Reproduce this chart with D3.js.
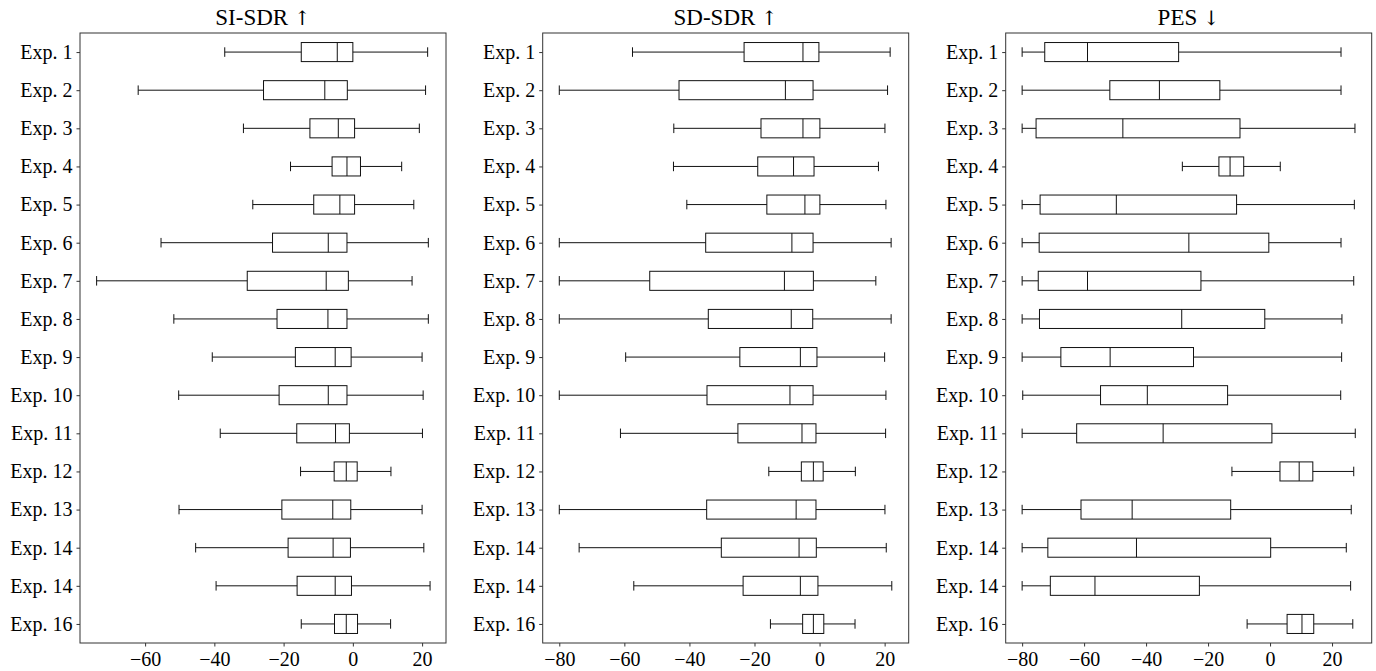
<!DOCTYPE html>
<html>
<head>
<meta charset="utf-8">
<script src="https://cdn.jsdelivr.net/npm/d3@7"></script>
<style>
  body { margin: 0; background: #fff; }
  svg text { font-family: "Liberation Serif", "DejaVu Serif", serif; fill: #000; }
</style>
</head>
<body>
<div id="chart"></div>
<script>
// experiment names (top to bottom)
const experiments = ["Exp. 1", "Exp. 2", "Exp. 3", "Exp. 4", "Exp. 5", "Exp. 6", "Exp. 7", "Exp. 8",
    "Exp. 9", "Exp. 10", "Exp. 11", "Exp. 12", "Exp. 13", "Exp. 14", "Exp. 14", "Exp. 16"];

// [whisker low, q1, median, q3, whisker high]
const siSdr = [
    [-37.0, -14.9, -4.5, 0.0, 21.6],
    [-62.0, -25.8, -8.1, -1.6, 21.0],
    [-31.6, -12.4, -4.2, 0.5, 19.2],
    [-18.0, -6.0, -1.7, 2.2, 14.1],
    [-28.9, -11.3, -3.75, 0.5, 17.6],
    [-55.4, -23.2, -7.1, -1.7, 21.8],
    [-74.0, -30.5, -7.7, -1.3, 17.1],
    [-51.7, -21.9, -7.2, -1.7, 21.8],
    [-40.6, -16.6, -5.1, -0.5, 20.0],
    [-50.3, -21.3, -7.1, -1.7, 20.3],
    [-38.3, -16.2, -5.0, -1.0, 20.1],
    [-15.1, -5.4, -1.9, 1.25, 11.0],
    [-50.2, -20.5, -5.8, -0.6, 20.0],
    [-45.4, -18.7, -5.7, -0.7, 20.5],
    [-39.5, -16.1, -5.1, -0.4, 22.3],
    [-14.9, -5.3, -1.9, 1.35, 10.9]
];

const sdSdr = [
    [-57.5, -23.2, -5.1, -0.2, 21.7],
    [-80.0, -43.2, -10.5, -2.0, 20.9],
    [-44.8, -18.0, -5.1, 0.1, 20.1],
    [-44.9, -19.0, -8.0, -1.7, 18.1],
    [-40.8, -16.2, -4.5, 0.1, 20.4],
    [-80.0, -35.0, -8.5, -2.0, 22.0],
    [-80.0, -52.2, -10.8, -1.9, 17.3],
    [-80.0, -34.2, -8.7, -2.1, 22.0],
    [-59.6, -24.5, -5.9, -0.8, 20.0],
    [-80.0, -34.6, -9.1, -2.0, 20.4],
    [-61.2, -25.1, -5.4, -1.1, 20.3],
    [-15.6, -5.6, -1.9, 1.1, 11.0],
    [-80.0, -34.7, -7.2, -1.1, 20.1],
    [-73.9, -30.2, -6.3, -1.0, 20.5],
    [-57.1, -23.5, -5.9, -0.5, 22.2],
    [-15.1, -5.2, -1.9, 1.3, 10.9]
];

const pes = [
    [-80.0, -72.7, -58.9, -29.5, 22.9],
    [-80.0, -51.7, -35.7, -16.2, 22.9],
    [-80.0, -75.5, -47.5, -9.7, 27.4],
    [-28.3, -16.5, -12.9, -8.5, 3.3],
    [-80.0, -74.2, -49.6, -10.8, 27.2],
    [-80.0, -74.5, -26.2, -0.4, 22.9],
    [-80.0, -74.8, -58.9, -22.3, 27.0],
    [-80.0, -74.4, -28.5, -1.7, 23.2],
    [-80.0, -67.5, -51.6, -24.7, 23.1],
    [-79.8, -54.7, -39.6, -13.7, 22.8],
    [-80.0, -62.4, -34.5, 0.6, 27.5],
    [-12.3, 3.2, 9.4, 13.8, 27.0],
    [-80.0, -61.0, -44.5, -12.7, 26.2],
    [-80.0, -71.7, -43.1, 0.2, 24.6],
    [-80.0, -70.9, -56.5, -22.8, 26.0],
    [-7.4, 5.5, 10.3, 14.1, 26.7]
];

const titles = ["SI-SDR", "SD-SDR", "PES"];
const arrows = ["\u2191", "\u2191", "\u2193"];
const ticksSi = [-60, -40, -20, 0, 20];
const ticksOther = [-80, -60, -40, -20, 0, 20];

const panels = [
    {title: titles[0], arrow: arrows[0], data: siSdr, domain: [-78.8, 26.9], ticks: ticksSi, left: 80},
    {title: titles[1], arrow: arrows[1], data: sdSdr, domain: [-85.1, 27.4], ticks: ticksOther, left: 542.7},
    {title: titles[2], arrow: arrows[2], data: pes, domain: [-85.3, 32.8], ticks: ticksOther, left: 1005.7}
];

const W = 1376, H = 671;
const plotTop = 33, plotH = 610, plotW = 366;

const svg = d3.select("#chart").append("svg")
    .attr("width", W)
    .attr("height", H);

const y = d3.scaleLinear()
    .domain([0.5, experiments.length + 0.5])
    .range([plotTop, plotTop + plotH]);

const boxH = y(1.25) - y(1);   // half of box height (widths 0.5)
const capH = y(1.125) - y(1);

panels.forEach(function(p) {
    let g = svg.append("g")
        .attr("transform", `translate(${p.left}, 0)`);

    let x = d3.scaleLinear()
        .domain(p.domain)
        .range([0, plotW]);

    // y axis
    let yAxis = d3.axisLeft(y)
        .tickValues(d3.range(1, experiments.length + 1))
        .tickFormat(d => experiments[d - 1])
        .tickSize(3.5)
        .tickPadding(4);

    let ya = g.append("g").call(yAxis);
    ya.select(".domain").remove();
    ya.selectAll("text").style("font-size", "20px");
    ya.selectAll("line").attr("stroke", "#333");

    // x axis
    let xAxis = d3.axisBottom(x)
        .tickValues(p.ticks)
        .tickSize(3.5)
        .tickPadding(5);

    let xa = g.append("g")
        .attr("transform", `translate(0, ${plotTop + plotH})`)
        .call(xAxis);
    xa.select(".domain").remove();
    xa.selectAll("text").style("font-size", "20px");
    xa.selectAll("line").attr("stroke", "#333");

    // boxes
    let rows = g.selectAll(".row")
        .data(p.data)
        .enter()
        .append("g")
        .attr("class", "row")
        .attr("stroke", "#111");

    // whiskers
    rows.append("line")
        .attr("x1", d => x(d[0]))
        .attr("x2", d => x(d[1]))
        .attr("y1", (d, i) => y(i + 1))
        .attr("y2", (d, i) => y(i + 1));
    rows.append("line")
        .attr("x1", d => x(d[3]))
        .attr("x2", d => x(d[4]))
        .attr("y1", (d, i) => y(i + 1))
        .attr("y2", (d, i) => y(i + 1));

    // caps
    [0, 4].forEach(function(k) {
        rows.append("line")
            .attr("x1", d => x(d[k]))
            .attr("x2", d => x(d[k]))
            .attr("y1", (d, i) => y(i + 1) - capH)
            .attr("y2", (d, i) => y(i + 1) + capH);
    });

    rows.append("rect")
        .attr("x", d => x(d[1]))
        .attr("width", d => x(d[3]) - x(d[1]))
        .attr("y", (d, i) => y(i + 1) - boxH)
        .attr("height", 2 * boxH)
        .attr("fill", "none");

    // median
    rows.append("line")
        .attr("x1", d => x(d[2]))
        .attr("x2", d => x(d[2]))
        .attr("y1", (d, i) => y(i + 1) - boxH)
        .attr("y2", (d, i) => y(i + 1) + boxH);

    // frame
    g.append("rect")
        .attr("x", 0)
        .attr("y", plotTop)
        .attr("width", plotW)
        .attr("height", plotH)
        .attr("fill", "none")
        .attr("stroke", "#333")
        .attr("stroke-width", 1);

    let t = g.append("text")
        .attr("x", plotW / 2)
        .attr("y", plotTop - 8)
        .attr("text-anchor", "middle")
        .style("font-size", "23px");
    t.append("tspan").text(p.title + " ");
    t.append("tspan")
        .style("font-family", "'DejaVu Serif', serif")
        .style("font-size", "20px")
        .style("fill", "#000")
        .text(p.arrow);
});
</script>
</body>
</html>
